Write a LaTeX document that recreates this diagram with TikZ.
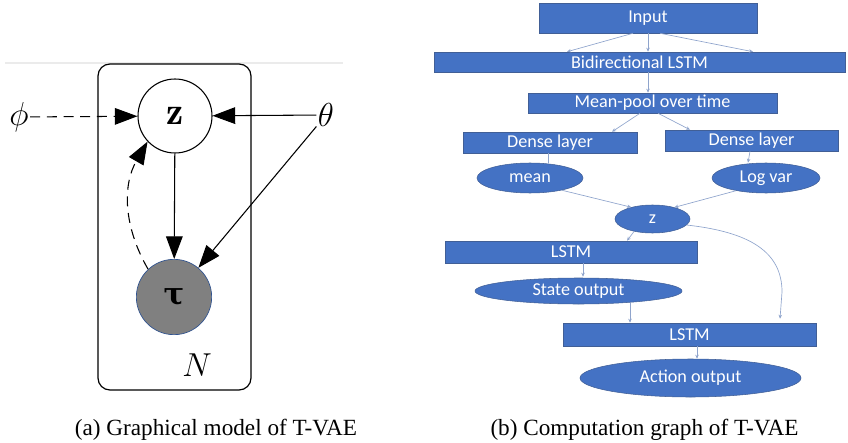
\documentclass[tikz,border=0pt]{standalone}
\usepackage{amsmath,amssymb}
\usepackage{fontspec}
\newfontfamily\boxfont{Carlito}
\newfontfamily\capfont{Liberation Serif}
\newfontfamily\greekfont{DejaVu Serif}
\usetikzlibrary{arrows.meta, shapes.geometric, calc}
\definecolor{officeblue}{RGB}{68,114,196}
\definecolor{edgeblue}{RGB}{65,95,150}
\definecolor{linkblue}{RGB}{143,164,204}
\definecolor{tauedge}{RGB}{47,82,143}

\begin{document}
\begin{tikzpicture}[x=0.75pt,y=-0.75pt,
  blk/.style={rectangle, fill=officeblue, draw=edgeblue, line width=0.4pt, inner sep=0pt,
    text=white, font=\boxfont\fontsize{13.6}{15}\selectfont},
  oval/.style={blk, ellipse},
  link/.style={draw=linkblue, line width=0.5pt, -{Stealth[length=3pt,width=2.6pt]}},
  bigtip/.style={-{Triangle[length=17pt,width=12.5pt]}},
  var/.style={circle, draw, line width=0.8pt, minimum size=55.5pt, inner sep=0pt,
    font=\fontsize{29}{32}\selectfont},
  captext/.style={anchor=base, font=\capfont\fontsize{17.4}{20}\selectfont}]
\useasboundingbox (0,0) rectangle (848,442);

% (a) graphical model
\draw[black!8, line width=0.8pt] (5,63) -- (343,63);
\draw[rounded corners=9pt, line width=0.9pt] (98,64) rectangle (251,390);
\node[var, fill=white] (z) at (175,116) {$\mathbf{z}$};
\node[var, fill=black!50, draw=tauedge, line width=0.5pt, minimum size=56.5pt,
  font=\greekfont\bfseries\fontsize{23}{26}\selectfont] (tau) at (174,297) {τ};
\node[font=\fontsize{25}{30}\selectfont, inner sep=1pt] (phi) at (19,117) {$\phi$};
\node[font=\fontsize{25}{30}\selectfont, inner sep=1pt] (theta) at (326,115) {$\theta$};
\node[font=\fontsize{24}{28}\selectfont] (N) at (197,365) {$N$};
\draw[line width=0.8pt, dash pattern=on 7.5pt off 5pt, bigtip] (phi) -- (z);
\draw[line width=0.8pt, bigtip] (theta) -- (z);
\draw[line width=0.8pt, bigtip] (theta) -- (tau);
\draw[line width=0.8pt, bigtip] (z) -- (tau);
\draw[line width=0.8pt, dash pattern=on 7.5pt off 5pt, bigtip] (tau.133) to[out=120, in=240] (z.223);

% (b) computation graph
\node[blk, minimum width=163.5pt, minimum height=22.5pt] (inp) at (648,18) {Input};
\node[blk, minimum width=308.25pt, minimum height=15pt] (bilstm) at (639.5,62) {Bidirectional LSTM};
\node[blk, minimum width=186.75pt, minimum height=15pt] (pool) at (652.5,103) {Mean-pool over time};
\node[blk, minimum width=130.5pt, minimum height=15.75pt] (dl) at (550,142.5) {Dense layer};
\node[blk, minimum width=129.75pt, minimum height=15.75pt] (dr) at (751.5,140.5) {Dense layer};
\node[oval, minimum width=79.5pt, minimum height=22.5pt] (mean) at (530,178) {mean};
\node[oval, minimum width=81pt, minimum height=22.5pt] (logvar) at (766,178) {Log var};
\node[oval, minimum width=56.25pt, minimum height=21pt] (zz) at (652.5,219) {z};
\node[blk, minimum width=189pt, minimum height=16.5pt] (lstma) at (571,252) {LSTM};
\node[oval, minimum width=155.25pt, minimum height=19.5pt] (state) at (578.5,291) {State output};
\node[blk, minimum width=189.75pt, minimum height=17.25pt] (lstmb) at (689.5,334.5) {LSTM};
\node[oval, minimum width=165.75pt, minimum height=28.5pt] (action) at (690.5,378) {Action output};

\draw[link] ($(inp.south)+(-15,0)$) -- ($(bilstm.north)+(-72.5,0)$);
\draw[link] (inp.south) -- (inp.south |- bilstm.north);
\draw[link] ($(inp.south)+(12,0)$) -- ($(bilstm.north)+(113.5,0)$);
\draw[link] ($(bilstm.south)+(8.5,0)$) -- ($(pool.north)+(-4.5,0)$);
\draw[link] ($(pool.south)+(-12.5,0)$) -- ($(dl.north)+(62,0)$);
\draw[link] ($(pool.south)+(5.5,0)$) -- ($(dr.north)+(-61.5,0)$);
\draw[draw=linkblue, line width=0.5pt] ($(dl.south)+(-2,0)$) -- ($(mean.north)+(18,0)$);
\draw[link] ($(dr.south)+(-1.5,0)$) -- ($(logvar.north)+(-18,0)$);
\draw[link] (mean.-21) -- (zz.151);
\draw[link] (logvar.203) -- (zz.28);
\draw[link] (zz.214) -- ($(lstma.north)+(56,0)$);
\draw[link] (zz.-10) .. controls (750,232) and (782,252) .. (782,292) -- ($(lstmb.north)+(90.5,-4)$);
\draw[link] ($(lstma.south)+(12,0)$) -- ($(state.north)+(4.5,-1)$);
\draw[link] ($(state.south)+(51.5,-1.5)$) -- ($(lstmb.north)+(-59.5,0)$);
\draw[link] ($(lstmb.south)+(7.5,0)$) -- ($(action.north)+(6.5,0)$);

% captions
\node[captext] (capa) at (216,435) {(a) Graphical model of T-VAE};
\node[captext] (capb) at (644.5,435) {(b) Computation graph of T-VAE};
\end{tikzpicture}
\end{document}
